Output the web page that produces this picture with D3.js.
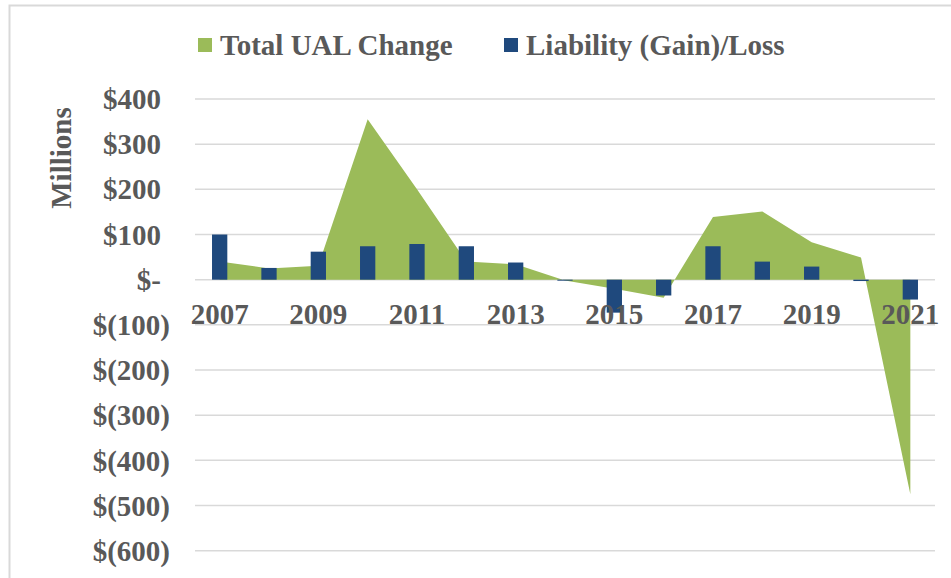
<!DOCTYPE html>
<html lang="en">
<head>
  <meta charset="UTF-8" />
  <title>Total UAL Change vs Liability (Gain)/Loss</title>
  <script src="https://d3js.org/d3.v7.min.js"></script>
  <style>
    body { margin: 0; background: #fff; }
    svg { display: block; }
    text { font-family: "Liberation Serif", "Times New Roman", serif; font-weight: bold; fill: #595959; }
  </style>
</head>
<body>
  <svg id="chart" width="951" height="578"></svg>

  <script>
    const years = ['2007', '2008', '2009', '2010', '2011', '2012', '2013', '2014',
                   '2015', '2016', '2017', '2018', '2019', '2020', '2021'];
    const totalUalChange = [40, 25, 31, 355, 200, 40, 34, -2, -20, -40, 139, 151, 83, 49, -475];
    const liabilityGainLoss = [100, 26, 62, 74, 79, 74, 38, -2, -73, -35, 74, 40, 29, -3, -44];
    const yTicks = [400, 300, 200, 100, 0, -100, -200, -300, -400, -500, -600];

    const green = '#9bbb59';
    const blue = '#1f497d';
    const gridColor = '#d9d9d9';

    const svg = d3.select('#chart');
    const plot = { left: 195, right: 935, top: 99, bottom: 550.7 };

    const x = d3.scaleBand().domain(years).range([plot.left, plot.right]);
    const y = d3.scaleLinear().domain([-600, 400]).range([plot.bottom, plot.top]);
    const cx = d => x(d) + x.bandwidth() / 2;

    // chart frame (right and bottom edges fall outside the picture)
    svg.append('rect')
      .attr('x', 9.5).attr('y', 5.5)
      .attr('width', 960).attr('height', 600)
      .attr('fill', 'none')
      .attr('stroke', gridColor)
      .attr('stroke-width', 2);

    // gridlines
    svg.append('g')
      .selectAll('line')
      .data(yTicks)
      .join('line')
      .attr('x1', plot.left).attr('x2', plot.right)
      .attr('y1', d => y(d)).attr('y2', d => y(d))
      .attr('stroke', gridColor)
      .attr('stroke-width', 1.5);

    // y tick labels, accounting style
    const fmt = v => v === 0 ? '$-' : v > 0 ? '$' + v : '$(' + (-v) + ')';
    svg.append('g')
      .selectAll('text')
      .data(yTicks)
      .join('text')
      .attr('x', d => d < 0 ? 170 : 161)
      .attr('y', d => y(d))
      .attr('dy', '0.35em')
      .attr('text-anchor', 'end')
      .attr('font-size', 29)
      .text(fmt);

    svg.append('text')
      .attr('transform', `translate(71, 158) rotate(-90)`)
      .attr('text-anchor', 'middle')
      .attr('font-size', 29)
      .text('Millions');

    // area series
    const rows = years.map((yr, i) => ({ yr, ual: totalUalChange[i], liab: liabilityGainLoss[i] }));
    const area = d3.area()
      .x(d => cx(d.yr))
      .y0(y(0))
      .y1(d => y(d.ual));

    svg.append('path')
      .datum(rows)
      .attr('d', area)
      .attr('fill', green);

    // bars
    const barW = x.bandwidth() * 0.31;
    svg.append('g')
      .selectAll('rect')
      .data(rows)
      .join('rect')
      .attr('x', d => cx(d.yr) - barW / 2)
      .attr('width', barW)
      .attr('y', d => y(Math.max(0, d.liab)))
      .attr('height', d => Math.max(1, Math.abs(y(d.liab) - y(0))))
      .attr('fill', blue);

    // x labels, every other year
    svg.append('g')
      .selectAll('text')
      .data(years.filter((d, i) => i % 2 === 0))
      .join('text')
      .attr('x', d => cx(d))
      .attr('y', y(0) + 44)
      .attr('text-anchor', 'middle')
      .attr('font-size', 29)
      .text(d => d);

    // legend
    const legend = [
      { name: 'Total UAL Change', color: green, x: 198 },
      { name: 'Liability (Gain)/Loss', color: blue, x: 504 }
    ];
    const lg = svg.append('g')
      .selectAll('g')
      .data(legend)
      .join('g')
      .attr('transform', d => `translate(${d.x}, 38)`);
    lg.append('rect')
      .attr('width', 14).attr('height', 14)
      .attr('fill', d => d.color);
    lg.append('text')
      .attr('x', 22).attr('y', 17)
      .attr('font-size', 29)
      .text(d => d.name);
  </script>
</body>
</html>
